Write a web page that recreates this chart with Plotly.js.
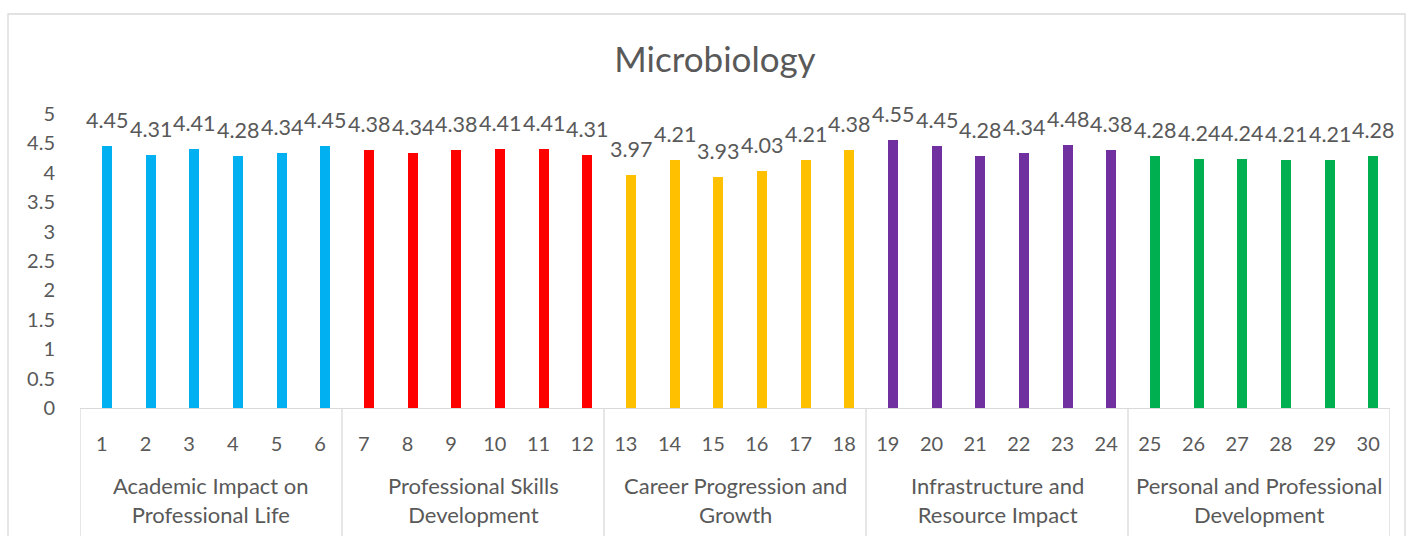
<!DOCTYPE html>
<html>
<head>
<meta charset="utf-8">
<script src="https://cdn.plot.ly/plotly-3.0.1.min.js"></script>
<style>html,body{margin:0;padding:0;background:#fff;}#chart{width:1410px;height:536px;}</style>
</head>
<body>
<div id="chart"></div>
<script>
// ---- data ----
var chartTitle = "Microbiology";
var questions = [1,2,3,4,5,6,7,8,9,10,11,12,13,14,15,16,17,18,19,20,21,22,23,24,25,26,27,28,29,30];
var scores = [4.45,4.31,4.41,4.28,4.34,4.45,
              4.38,4.34,4.38,4.41,4.41,4.31,
              3.97,4.21,3.93,4.03,4.21,4.38,
              4.55,4.45,4.28,4.34,4.48,4.38,
              4.28,4.24,4.24,4.21,4.21,4.28];
var groupNames = ["Academic Impact on<br>Professional Life",
                  "Professional Skills<br>Development",
                  "Career Progression and<br>Growth",
                  "Infrastructure and<br>Resource Impact",
                  "Personal and Professional<br>Development"];
var groupSizes = [6,6,6,6,6];
var groupColors = ["#00B0F0","#FF0000","#FFC000","#7030A0","#00B050"];
var yTicks = [0,0.5,1,1.5,2,2.5,3,3.5,4,4.5,5];

// ---- build ----
var FONT = "Lato, 'Open Sans', sans-serif";
var TXT = "#595959";
var GRID = "#D9D9D9";
var BAR_OFF = 0.005, BAR_W = 0.225;

var colors = [];
var groupStart = [];
var idx = 0;
groupSizes.forEach(function(n, g){
  groupStart.push(idx);
  for (var k=0;k<n;k++){ colors.push(groupColors[g]); idx++; }
});

var trace = {
  type: "bar",
  x: questions,
  y: scores,
  width: BAR_W,
  offset: BAR_OFF,
  marker: {color: colors},
  hoverinfo: "x+y"
};

var annotations = [];
questions.forEach(function(q, i){
  annotations.push({
    x: q + BAR_OFF + BAR_W/2, y: scores[i], xref: "x", yref: "y",
    text: String(scores[i]), showarrow: false,
    yanchor: "middle", xanchor: "center", yshift: 26,
    font: {family: FONT, size: 21.5, color: TXT}
  });
});

var shapes = [];
groupSizes.forEach(function(n, g){
  var s = questions[groupStart[g]] - 0.5;
  var e = questions[groupStart[g] + n - 1] + 0.5;
  annotations.push({
    x: (s + e)/2, y: -0.313, xref: "x", yref: "paper",
    text: groupNames[g], showarrow: false, yanchor: "middle", xanchor: "center",
    font: {family: FONT, size: 22, color: TXT}
  });
  shapes.push({type:"line", xref:"x", yref:"paper", x0:s, x1:s, y0:0, y1:-0.6,
               line:{color:GRID, width:1.3}});
  if (g === groupSizes.length-1) {
    shapes.push({type:"line", xref:"x", yref:"paper", x0:e, x1:e, y0:0, y1:-0.6,
                 line:{color:GRID, width:1.3}});
  }
});
// chart-area border
shapes.push({type:"rect", xref:"paper", yref:"paper",
  x0:(8-80)/1310, x1:(1405-80)/1310, y0:-0.6, y1:(408-14)/294,
  line:{color:GRID, width:1.3}, fillcolor:"rgba(0,0,0,0)", layer:"below"});

var layout = {
  width: 1410, height: 536,
  margin: {l: 80, r: 20, t: 114, b: 128},
  paper_bgcolor: "#fff", plot_bgcolor: "#fff",
  title: {text: chartTitle, x: 715/1410, xref: "container", xanchor: "center",
          y: 1 - 60/536, yref: "container", yanchor: "middle",
          font: {family: FONT, size: 35, color: TXT}},
  showlegend: false,
  bargap: 0,
  xaxis: {
    type: "linear", range: [0.5, 30.5], tickvals: questions, ticktext: questions.map(String),
    showgrid: false, zeroline: false, showline: true, linecolor: GRID, linewidth: 1.3,
    ticks: "outside", ticklen: 18, tickcolor: "rgba(0,0,0,0)",
    tickfont: {family: FONT, size: 20, color: TXT}
  },
  yaxis: {
    range: [0, 5], tickvals: yTicks, ticktext: yTicks.map(String),
    showgrid: false, zeroline: false, showline: false,
    ticks: "outside", ticklen: 20, tickcolor: "rgba(0,0,0,0)",
    tickfont: {family: FONT, size: 20, color: TXT}
  },
  annotations: annotations,
  shapes: shapes
};

Plotly.newPlot("chart", [trace], layout, {displayModeBar: false, staticPlot: true});
</script>
</body>
</html>
